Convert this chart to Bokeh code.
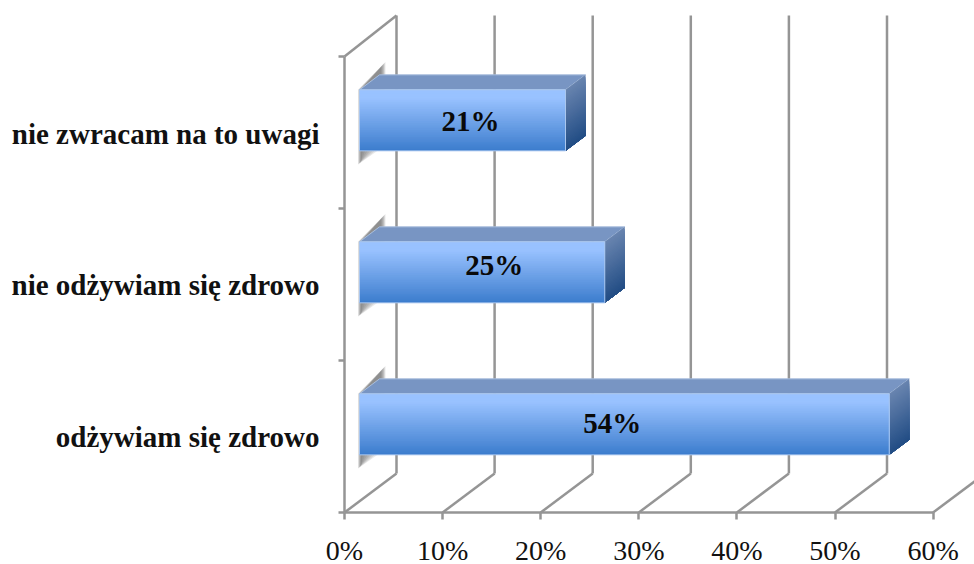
from bokeh.embed import file_html
from bokeh.models import FixedTicker, Range1d
from bokeh.plotting import figure
from bokeh.resources import INLINE
from bokeh.core.properties import value

# Survey results, bottom category first
categories = ["odżywiam się zdrowo", "nie odżywiam się zdrowo", "nie zwracam na to uwagi"]
shares = [54, 25, 21]
value_ticks = [0, 10, 20, 30, 40, 50, 60]

SERIF = "Liberation Serif"
GRID = "#959595"
PX_X = 9.81    # pixels per percentage point
PX_Y = 152.0   # pixels per category band

# Oblique depth of the chart box and of the bars, in data units
WALL_DX, WALL_DY = 52 / PX_X, 39 / PX_Y
WALL_TOP = 3 + 41 / PX_Y
BAR_DX, BAR_DY = 20 / PX_X, 15 / PX_Y
BAR_X0 = 15 / PX_X
BAR_H = 61 / PX_Y
BAR_LIFT = 0.08

# Per-bar nudges of the value labels, in pixels
LABEL_NUDGE = [(-12, -1), (12, -7), (8, 1)]
LABEL_TICKS = [0.50, 1.50, 2.49]


def mix(a, b, t):
    return "#%02x%02x%02x" % tuple(round(a[i] + (b[i] - a[i]) * t) for i in range(3))


# The frame fills the canvas; both axes are pinned at zero inside it
p = figure(width=974, height=564, output_backend="svg", toolbar_location=None,
           x_range=Range1d(-344 / PX_X, 630 / PX_X), y_range=Range1d(-52 / PX_Y, 512 / PX_Y),
           min_border_left=0, min_border_bottom=0, min_border_right=0, min_border_top=0)
p.outline_line_color = None
p.grid.visible = False
p.background_fill_color = "white"

# Value axis along the floor
xa = p.xaxis[0]
xa.fixed_location = 0
xa.bounds = (0, 60)
xa.ticker = FixedTicker(ticks=value_ticks)
xa.major_label_overrides = {v: f"{v}%" for v in value_ticks}
xa.major_label_text_font = SERIF
xa.major_label_text_font_size = "28px"
xa.major_label_text_color = "#111111"
xa.major_label_standoff = 15
xa.axis_line_color = GRID
xa.axis_line_width = 2.5
xa.major_tick_line_color = GRID
xa.major_tick_line_width = 2.5
xa.major_tick_in = 0
xa.major_tick_out = 7
xa.minor_tick_line_color = None

# Category axis: labels sit mid-band, tick marks at the band edges
ya = p.yaxis[0]
ya.fixed_location = 0
ya.bounds = (0, 3)
ya.ticker = FixedTicker(ticks=LABEL_TICKS, minor_ticks=[0, 1, 2, 3])
ya.major_label_overrides = {t: c for t, c in zip(LABEL_TICKS, categories)}
ya.major_label_text_font = SERIF
ya.major_label_text_font_style = "bold"
ya.major_label_text_font_size = "29px"
ya.major_label_text_color = "#111111"
ya.major_label_standoff = 19
ya.axis_line_color = GRID
ya.axis_line_width = 2.5
ya.major_tick_line_color = None
ya.major_tick_in = 0
ya.major_tick_out = 0
ya.minor_tick_line_color = GRID
ya.minor_tick_line_width = 2.5
ya.minor_tick_in = 0
ya.minor_tick_out = 6

# Box: floor diagonals and back-wall verticals
for v in value_ticks:
    p.line([v, v + WALL_DX], [0, WALL_DY], line_color=GRID, line_width=2.5)
    p.line([v + WALL_DX, v + WALL_DX], [WALL_DY, WALL_TOP], line_color=GRID, line_width=2.5)
p.line([0, WALL_DX], [3, WALL_TOP], line_color=GRID, line_width=2.5)

TOP_FACE = "#7895c3"
FRONT_STOPS = [(0.0, (153, 194, 255)), (0.12, (153, 194, 255)), (1.0, (58, 123, 204))]
SIDE_A, SIDE_B = (104, 132, 175), (33, 76, 132)
STEPS = 36


def front_colour(t):
    for (t0, c0), (t1, c1) in zip(FRONT_STOPS, FRONT_STOPS[1:]):
        if t <= t1:
            return mix(c0, c1, (t - t0) / (t1 - t0) if t1 > t0 else 0)
    return mix(FRONT_STOPS[-1][1], FRONT_STOPS[-1][1], 0)


for i, share in enumerate(shares):
    x0 = BAR_X0
    x1 = BAR_X0 + share
    yc = i + 0.5 + BAR_LIFT
    y0, y1 = yc - BAR_H / 2, yc + BAR_H / 2

    # Soft shadow cast on the left wall, built from stacked translucent layers
    for k in range(7):
        g = k * 0.25
        p.patch([x0 - 0.15 + g * 0.2, x0 + BAR_DX * 1.3 - g * 0.3, x0 + BAR_DX * 1.3 - g * 0.3,
                 x0 + BAR_DX * 0.9 - g, x0 - 0.15 + g * 0.2],
                [y1 + 0.0, y1 + BAR_DY * 1.85 - g * 0.02, y1 - 0.05, y0 - 0.0, y0 - 0.09 + g * 0.012],
                fill_color="#4d4d4d", fill_alpha=0.13, line_color=None)

    # Top face
    p.patch([x0, x1, x1 + BAR_DX, x0 + BAR_DX], [y1, y1, y1 + BAR_DY, y1 + BAR_DY],
            fill_color=TOP_FACE, line_color="#a9bedd", line_width=1)

    # Right face, darker toward the bottom
    for s in range(STEPS):
        t = s / (STEPS - 1)
        y_s = y1 + (y0 - y1) * t
        p.patch([x1, x1 + BAR_DX, x1 + BAR_DX, x1],
                [y_s, y_s + BAR_DY, y0 + BAR_DY, y0],
                fill_color=mix(SIDE_A, SIDE_B, t), line_color=None)

    # Front face, painted top to bottom so strips cannot leave seams
    for s in range(STEPS):
        t = s / (STEPS - 1)
        p.quad(left=x0, right=x1, bottom=y0, top=y1 + (y0 - y1) * t,
               fill_color=front_colour(t), line_color=None)
    p.quad(left=x0, right=x1, bottom=y0, top=y1, fill_color=None,
           line_color="#a9c6ee", line_width=1)

    # Value label
    dx, dy = LABEL_NUDGE[i]
    p.text([x0 + share / 2], [yc], text=[f"{share}%"], text_align="center", text_baseline="middle",
           x_offset=dx, y_offset=dy, text_font=value(SERIF), text_font_style="bold",
           text_font_size="29px", text_color="#0a0a0a")

open("out.html", "w").write(file_html(p, INLINE))
